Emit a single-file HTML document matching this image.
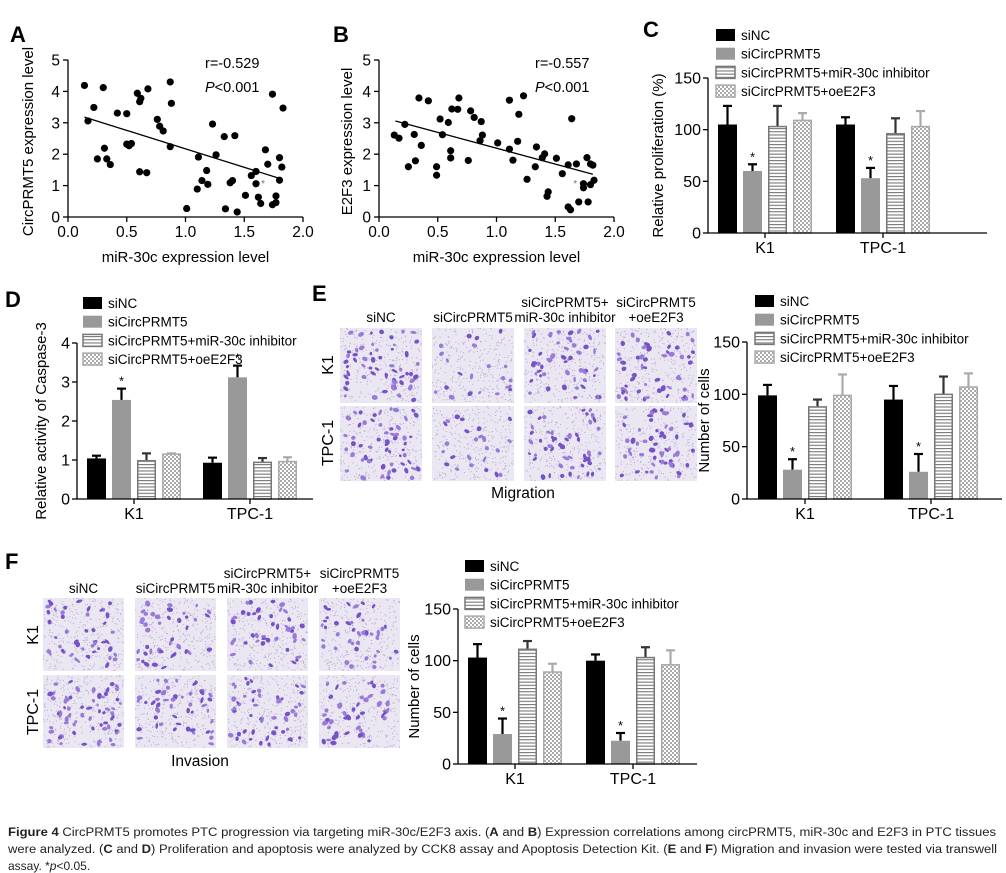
<!DOCTYPE html>
<html><head><meta charset="utf-8"><style>
html,body{margin:0;padding:0;background:#fff;}
svg{display:block;font-family:"Liberation Sans",Arial,sans-serif;}
</style></head><body>
<svg id="fig" width="1006" height="873" viewBox="0 0 1006 873" xmlns="http://www.w3.org/2000/svg">
<defs>
<pattern id="stripes" width="4" height="3.2" patternUnits="userSpaceOnUse"><rect width="4" height="3.2" fill="#fff"/><rect y="0" width="4" height="1.1" fill="#777"/></pattern>
<pattern id="checker" width="4" height="4" patternUnits="userSpaceOnUse"><rect width="4" height="4" fill="#fff"/><rect width="2" height="2" fill="#aaa"/><rect x="2" y="2" width="2" height="2" fill="#aaa"/></pattern>
</defs>
<g id="root"></g>
<g font-size="11.5" fill="#222">
<text x="8" y="836" textLength="988" lengthAdjust="spacingAndGlyphs"><tspan font-weight="bold">Figure 4</tspan> CircPRMT5 promotes PTC progression via targeting miR-30c/E2F3 axis. (<tspan font-weight="bold">A</tspan> and <tspan font-weight="bold">B</tspan>) Expression correlations among circPRMT5, miR-30c and E2F3 in PTC tissues</text>
<text x="8" y="853" textLength="989" lengthAdjust="spacingAndGlyphs">were analyzed. (<tspan font-weight="bold">C</tspan> and <tspan font-weight="bold">D</tspan>) Proliferation and apoptosis were analyzed by CCK8 assay and Apoptosis Detection Kit. (<tspan font-weight="bold">E</tspan> and <tspan font-weight="bold">F</tspan>) Migration and invasion were tested via transwell</text>
<text x="8" y="870" font-size="12">assay. *<tspan font-style="italic">p</tspan>&lt;0.05.</text>
</g>
</svg>
<script>
// ---- Scatter data ----
const aX=[0.14,0.17,0.22,0.25,0.30,0.31,0.33,0.36,0.42,0.50,0.50,0.52,0.54,0.59,0.61,0.62,0.61,0.68,0.67,0.76,0.78,0.81,0.87,0.88,0.87,1.01,1.10,1.11,1.14,1.18,1.19,1.23,1.26,1.33,1.34,1.38,1.40,1.42,1.44,1.51,1.56,1.60,1.60,1.62,1.64,1.68,1.70,1.74,1.74,1.77,1.77,1.80,1.80,1.82,1.83];
const aY=[4.19,3.06,3.49,1.85,4.12,2.19,1.85,1.67,3.31,3.29,2.32,2.27,2.34,3.94,3.67,3.78,1.44,4.08,1.41,3.11,2.89,2.74,4.30,3.62,2.24,0.27,0.89,1.91,1.16,1.48,1.04,2.96,1.98,2.56,0.26,1.09,1.16,2.59,0.16,0.69,1.32,1.45,1.06,0.63,0.43,2.14,1.68,3.91,0.39,0.46,0.67,1.89,1.17,1.59,3.47];
const aFit=[3.345,-1.175]; const aFitRange=[0.14,1.80];
const bX=[0.13,0.17,0.22,0.25,0.30,0.31,0.34,0.36,0.42,0.49,0.49,0.52,0.54,0.59,0.61,0.61,0.62,0.67,0.68,0.76,0.78,0.81,0.87,0.88,0.86,1.01,1.11,1.11,1.14,1.18,1.19,1.23,1.26,1.33,1.34,1.39,1.41,1.43,1.44,1.51,1.56,1.61,1.61,1.63,1.64,1.68,1.70,1.74,1.74,1.77,1.78,1.80,1.80,1.82,1.83];
const bY=[2.61,2.51,2.95,1.60,2.63,1.79,3.79,2.28,3.70,1.60,1.33,3.12,2.62,3.01,2.11,1.88,3.44,3.43,3.79,1.80,3.38,3.17,3.04,2.61,2.43,2.36,2.16,3.72,1.81,2.41,3.27,3.86,1.20,1.60,2.23,1.89,2.01,0.66,0.80,1.87,1.38,1.66,0.32,0.23,3.13,1.69,0.48,0.93,1.06,1.89,0.48,1.69,1.03,1.65,1.17];
const bFit=[3.20,-1.01]; const bFitRange=[0.14,1.82];
const scatterXTicks=["0.0","0.5","1.0","1.5","2.0"];
const scatterYTicks=["0","1","2","3","4","5"];
// ---- Bar data (groups: K1, TPC-1; series: siNC, siCircPRMT5, +inhibitor, +oeE2F3) ----
const groups=["K1","TPC-1"];
const seriesNames=["siNC","siCircPRMT5","siCircPRMT5+miR-30c inhibitor","siCircPRMT5+oeE2F3"];
const cVals=[[105,60,103,109],[105,53,96,103]];
const cErr=[[123,66.5,123,116],[112,63,111,118]];
const cTicks=["0","50","100","150"];
const dVals=[[1.04,2.54,0.98,1.15],[0.93,3.12,0.94,0.96]];
const dErr=[[1.11,2.83,1.17,1.17],[1.06,3.42,1.05,1.07]];
const dTicks=["0","1","2","3","4"];
const eVals=[[99,28,88,99],[95,26,100,107]];
const eErr=[[109,38,95,119],[108,43,117,120]];
const eTicks=["0","50","100","150"];
const fVals=[[103,29,111,89],[100,22.5,103,96]];
const fErr=[[116,44,119,97],[106,30,113,110]];
const fTicks=["0","50","100","150"];

const NS="http://www.w3.org/2000/svg";
const root=document.getElementById('root');
function mk(tag,attrs,parent,txt){const e=document.createElementNS(NS,tag);for(const k in attrs)e.setAttribute(k,attrs[k]);if(txt!==undefined)e.textContent=txt;(parent||root).appendChild(e);return e;}

function letter(t,x,y){const e=mk('text',{x:x,y:y,'font-size':22,'font-weight':'bold'},root,t);

}

function scatter(name,xs,ys,fit,fr,x0,x1,y0,y1,ytitle,ytx,rtext,rx,starv){
  const g=mk('g',{});
  
  
  const sx=v=>x0+(x1-x0)*v/2, sy=v=>y0-(y0-y1)*v/5;
  const ax=mk('g',{stroke:'#000','stroke-width':1.3},g);
  
  
  mk('line',{x1:x0,y1:y0,x2:x1,y2:y0},ax);mk('line',{x1:x0,y1:y0,x2:x0,y2:y1},ax);
  scatterXTicks.forEach((t,i)=>{const x=sx(i*0.5);mk('line',{x1:x,y1:y0,x2:x,y2:y0+5},ax);
    const tt=mk('text',{x:x,y:y0+20,'font-size':15.5,'text-anchor':'middle',stroke:'none'},g,t);
    
    });
  scatterYTicks.forEach((t,i)=>{const y=sy(i);mk('line',{x1:x0-5,y1:y,x2:x0,y2:y},ax);
    const tt=mk('text',{x:x0-8,y:y+5.5,'font-size':15.5,'text-anchor':'end',stroke:'none'},g,t);
    
    });
  const xt=mk('text',{x:(x0+x1)/2,y:y0+45,'font-size':15,'text-anchor':'middle'},g,'miR-30c expression level');
  
  
  const yc=(y0+y1)/2+3;
  const yt=mk('text',{x:ytx,y:yc,'font-size':15,'text-anchor':'middle',transform:`rotate(-90 ${ytx} ${yc})`},g,ytitle);
  
  
  const r=mk('text',{x:rx,y:y1+8,'font-size':14.5},g,rtext);
  
  
  const p=mk('text',{x:rx,y:y1+32,'font-size':14.5},g);
  
  
  mk('tspan',{'font-style':'italic'},p,'P');mk('tspan',{},p,'<0.001');
  const l=mk('line',{x1:sx(fr[0]),y1:sy(fit[0]+fit[1]*fr[0]),x2:sx(fr[1]),y2:sy(fit[0]+fit[1]*fr[1]),stroke:'#000','stroke-width':1.3},g);
  
  
  xs.forEach((v,i)=>{const c=mk('circle',{cx:sx(v),cy:sy(ys[i]),r:3.6,fill:'#000'},g);
    
    });
  const st=mk('text',{x:sx(starv[0]),y:sy(starv[1])+5,'font-size':10,fill:'#777','text-anchor':'middle'},g,'*');
  
  
}

const fills=['#000','#999','url(#stripes)','url(#checker)'];
const strokes=['#000','#999','#777','#aaa'];
const errCol=['#000','#000','#333','#aaa'];
function legend(x,y,g){
  seriesNames.forEach((n,i)=>{const lg=mk('g',{},g);
    
    
    const yy=y+i*18.7;
    mk('rect',{x:x,y:yy-6,width:19,height:12,fill:fills[i],stroke:strokes[i],'stroke-width':i>1?1.5:0},lg);
    mk('text',{x:x+25,y:yy+5,'font-size':13.5},lg,n);});
}
function bars(name,vals,errs,ticks,max,ax0,ax1,y0,y1,first,step,ytitle,ytx,legx,legy){
  const g=mk('g',{});
  
  
  const sy=v=>y0-(y0-y1)*v/max;
  legend(legx,legy,g);
  groups.forEach((gn,gi)=>{
    seriesNames.forEach((sn,si)=>{
      const x=first+step*gi+25*si, v=vals[gi][si], e=errs[gi][si];
      const w=errCol[si];
      const el=mk('line',{x1:x+9.5,y1:sy(v),x2:x+9.5,y2:sy(e),stroke:w,'stroke-width':2.2},g);
      
      
      const ec=mk('line',{x1:x+5,y1:sy(e),x2:x+14,y2:sy(e),stroke:w,'stroke-width':2.2},g);
      
      
      const sw=si>1?1.5:0;
      const b=mk('rect',{x:x+sw/2,y:sy(v),width:19-sw,height:y0-sy(v),fill:fills[si],stroke:strokes[si],'stroke-width':sw},g);
      
      
      if(si===1){const s=mk('text',{x:x+9.5,y:sy(e)-3,'font-size':13,'text-anchor':'middle'},g,'*');
        
        }
    });
    const gl=mk('text',{x:first+step*gi+47,y:y0+20,'font-size':16,'text-anchor':'middle'},g,gn);
    
    
  });
  const ax=mk('g',{stroke:'#000','stroke-width':1.3},g);
  
  
  mk('line',{x1:ax0,y1:y0,x2:ax1,y2:y0},ax);mk('line',{x1:ax0,y1:y0,x2:ax0,y2:y1},ax);
  groups.forEach((gn,gi)=>{const cx=first+step*gi+47;mk('line',{x1:cx,y1:y0,x2:cx,y2:y0+5},ax);});
  ticks.forEach((t,i)=>{const v=max*i/(ticks.length-1),y=sy(v);mk('line',{x1:ax0-5,y1:y,x2:ax0,y2:y},ax);
    const tt=mk('text',{x:ax0-7,y:y+5.5,'font-size':16,'text-anchor':'end',stroke:'none'},g,t);
    
    });
  const yc=(y0+y1)/2;
  const yt=mk('text',{x:ytx,y:yc,'font-size':15,'text-anchor':'middle',transform:`rotate(-90 ${ytx} ${yc})`},g,ytitle);
  
  
}

// seeded RNG for micrograph texture (decoration only)
let seed=7;function rnd(){seed=(seed*16807)%2147483647;return seed/2147483647;}
function micro(name,x,y,w,h,n){
  const g=mk('g',{});
  
  
  mk('rect',{x:x,y:y,width:w,height:h,fill:'#ebe7f2'},g);
  for(let i=0;i<320;i++){mk('rect',{x:x+rnd()*(w-1),y:y+rnd()*(h-1),width:1,height:1,fill:'#b3a6d0'},g);}
  for(let i=0;i<n;i++){const cx=x+3+rnd()*(w-6),cy=y+3+rnd()*(h-6);
    mk('ellipse',{cx:cx,cy:cy,rx:1.5+rnd()*1.8,ry:1.2+rnd()*1.3,fill:rnd()<0.5?'#7652c6':'#9a7ad8',transform:`rotate(${rnd()*180} ${cx} ${cy})`},g);}
}
function labelText(name,t,x,y,size,anchor,rot){const a={x:x,y:y,'font-size':size,'text-anchor':anchor||'middle'};
  if(rot)a.transform=`rotate(-90 ${x} ${y})`;const e=mk('text',a,root,t);
  
  }

letter('A',10,42);letter('B',333,42);letter('C',643,37);letter('D',5,307);letter('E',312,301);letter('F',5,569);
scatter('scatter-a',aX,aY,aFit,aFitRange,68,303,217,60,'CircPRMT5 expression level',33,'r=-0.529',205,[1.66,1.12]);
scatter('scatter-b',bX,bY,bFit,bFitRange,379,614,217,60,'E2F3 expression level',352,'r=-0.557',535,[1.67,1.12]);
bars('bar-chart-c',cVals,cErr,cTicks,150,708,987,233,78,718,118,'Relative proliferation (%)',663,716,35);
bars('bar-chart-d',dVals,dErr,dTicks,4,77,313,499,343,87,116,'Relative activity of Caspase-3',46,83,303);
bars('bar-chart-e',eVals,eErr,eTicks,150,747,1002,499,342,758,126,'Number of cells',709,755,301);
bars('bar-chart-f',fVals,fErr,fTicks,150,458,697,764,609,468,118,'Number of cells',419,465,566);

// E micrographs
const eCols=[340,432,524,615], eW=82, eRows=[328,406], eH=75, eDens=[[60,22,52,52],[58,24,54,56]];
const colL1=['siNC','siCircPRMT5','siCircPRMT5+','siCircPRMT5'],colL2=['','','miR-30c inhibitor','+oeE2F3'];
eRows.forEach((ry,ri)=>eCols.forEach((cx,ci)=>micro('micrograph-e-'+ri+'-'+ci,cx,ry,eW,eH,eDens[ri][ci])));
eCols.forEach((cx,ci)=>{if(colL2[ci]){labelText('column-label',colL1[ci],cx+eW/2,307,13.5);labelText('column-label',colL2[ci],cx+eW/2,322,13.5);}else labelText('column-label',colL1[ci],cx+eW/2,322,13.5);});
labelText('row-label-k1','K1',333,365,16,'middle',true);
labelText('row-label-tpc1','TPC-1',333,443,16,'middle',true);
labelText('migration-label','Migration',523,498,15.5);
// F micrographs
const fCols=[43,135,227,319], fW=81, fRows=[598,675], fH=73, fDens=[[48,40,44,44],[62,48,50,50]];
fRows.forEach((ry,ri)=>fCols.forEach((cx,ci)=>micro('micrograph-f-'+ri+'-'+ci,cx,ry,fW,fH,fDens[ri][ci])));
fCols.forEach((cx,ci)=>{if(colL2[ci]){labelText('column-label',colL1[ci],cx+fW/2,578,13.5);labelText('column-label',colL2[ci],cx+fW/2,593,13.5);}else labelText('column-label',colL1[ci],cx+fW/2,593,13.5);});
labelText('row-label-k1','K1',38,635,16,'middle',true);
labelText('row-label-tpc1','TPC-1',38,712,16,'middle',true);
labelText('invasion-label','Invasion',200,766,15.5);
</script>
</body></html>
